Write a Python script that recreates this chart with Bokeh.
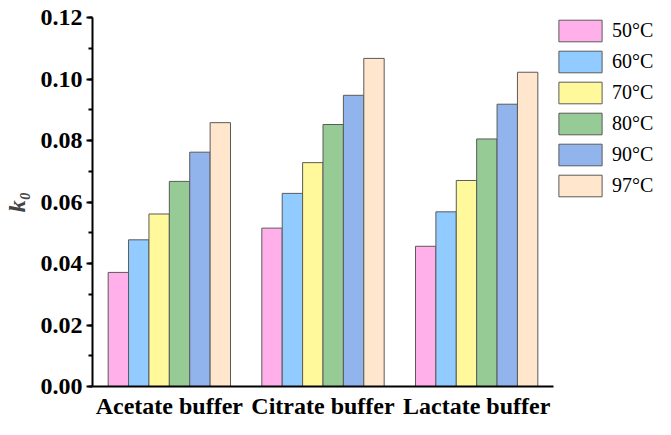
from bokeh.plotting import figure
from bokeh.models import FactorRange, Range1d, SingleIntervalTicker, NumeralTickFormatter
from bokeh.transform import dodge
from bokeh.embed import file_html
from bokeh.resources import INLINE

buffers = ["Acetate buffer", "Citrate buffer", "Lactate buffer"]
temps = ["50°C", "60°C", "70°C", "80°C", "90°C", "97°C"]
k50 = [0.0371, 0.0515, 0.0456]
k60 = [0.0477, 0.0628, 0.0568]
k70 = [0.0561, 0.0728, 0.0670]
k80 = [0.0667, 0.0852, 0.0805]
k90 = [0.0762, 0.0947, 0.0918]
k97 = [0.0858, 0.1067, 0.1022]
colors = ["#FFB0EB", "#92CBFF", "#FFF99B", "#96CB96", "#91B4EC", "#FFE6CD"]

series = [k50, k60, k70, k80, k90, k97]

p = figure(x_range=FactorRange(*buffers, range_padding=0), y_range=Range1d(0, 0.12),
           frame_width=461, frame_height=369, output_backend="svg", toolbar_location=None,
           min_border_left=89, min_border_right=0, min_border_top=17, min_border_bottom=24)
p.x_range.range_padding = 0

bw = 0.1327
for i, (vals, c, t) in enumerate(zip(series, colors, temps)):
    src = {"x": buffers, "y": vals}
    p.vbar(x=dodge("x", (i - 2.5) * bw, range=p.x_range), top="y", width=bw, source=src,
           fill_color=c, line_color="#5a5a5a", line_width=1, legend_label=t)

p.grid.grid_line_color = None
p.outline_line_color = None
p.background_fill_color = "white"

ya = p.yaxis[0]
ya.ticker = SingleIntervalTicker(interval=0.02, num_minor_ticks=2)
ya.formatter = NumeralTickFormatter(format="0.00")
ya.axis_line_width = 2
ya.major_tick_line_width = 2
ya.minor_tick_line_width = 2
ya.major_tick_in = 0
ya.major_tick_out = 6
ya.minor_tick_in = 0
ya.minor_tick_out = 4
ya.major_label_text_font = "Liberation Serif"
ya.major_label_text_font_style = "bold"
ya.major_label_text_font_size = "24px"
ya.major_label_text_color = "black"
ya.major_label_standoff = 4
ya.axis_label = "k₀"
ya.axis_label_text_font = "Liberation Serif"
ya.axis_label_text_font_style = "bold italic"
ya.axis_label_text_font_size = "24px"
ya.axis_label_standoff = 8

xa = p.xaxis[0]
xa.axis_line_width = 2
xa.major_tick_line_color = None
xa.minor_tick_line_color = None
xa.major_tick_out = 0
xa.major_tick_in = 0
xa.axis_label_standoff = 0
xa.major_label_text_font = "Liberation Serif"
xa.major_label_text_font_style = "bold"
xa.major_label_text_font_size = "24px"
xa.major_label_text_color = "black"
xa.major_label_standoff = 6

lg = p.legend[0]
p.center.remove(lg)
lg.location = "top_left"
lg.glyph_width = 54
lg.glyph_height = 27
lg.spacing = 4
lg.padding = 2
lg.margin = 0
lg.label_standoff = 5
lg.label_text_font = "Liberation Serif"
lg.label_text_font_size = "20px"
lg.label_text_color = "black"
lg.label_height = 27
lg.border_line_color = None
lg.background_fill_alpha = 0
p.add_layout(lg, "right")

open("out.html", "w").write(file_html(p, INLINE))
